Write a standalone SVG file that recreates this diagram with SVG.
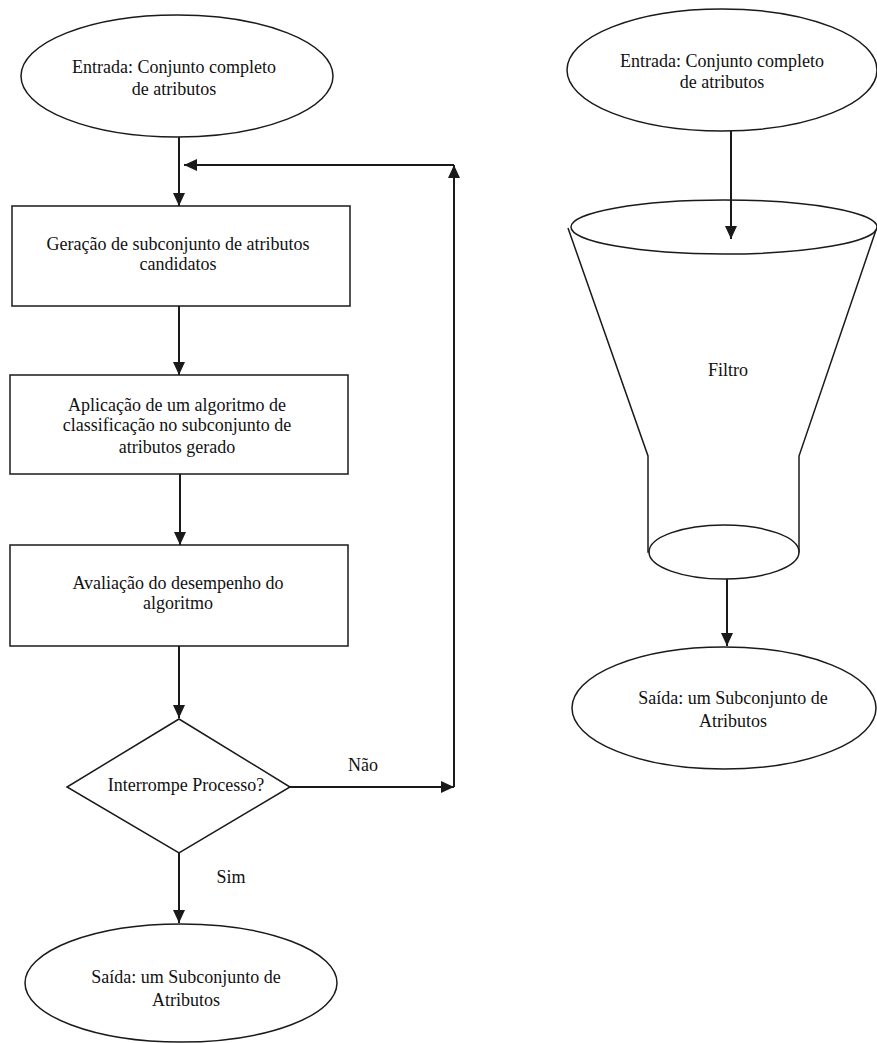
<svg xmlns="http://www.w3.org/2000/svg" width="877" height="1043" viewBox="0 0 877 1043" font-family="Liberation Serif, Times New Roman, serif" font-size="18">
<defs>
<style>
.shape{fill:#fff;stroke:#1a1a1a;stroke-width:1.5}
.line{fill:none;stroke:#1a1a1a;stroke-width:2}
.t{fill:#111;text-anchor:middle}
</style>
<marker id="ah" markerUnits="userSpaceOnUse" markerWidth="14" markerHeight="12" refX="13" refY="6" orient="auto">
<path d="M0,0 L13,6 L0,12 Z" fill="#1a1a1a"/>
</marker>
</defs>
<rect width="877" height="1043" fill="#fff"/>

<g id="entrada-left">
<ellipse class="shape" cx="177" cy="76" rx="156" ry="61"/>
<text class="t" x="174" y="73">Entrada: Conjunto completo</text>
<text class="t" x="174" y="95">de atributos</text>
</g>

<g id="geracao">
<rect class="shape" x="12" y="206" width="338" height="100"/>
<text class="t" x="178" y="250">Geração de subconjunto de atributos</text>
<text class="t" x="178" y="270">candidatos</text>
</g>

<g id="aplicacao">
<rect class="shape" x="10" y="375" width="338" height="99"/>
<text class="t" x="177" y="411">Aplicação de um algoritmo de</text>
<text class="t" x="177" y="431">classificação no subconjunto de</text>
<text class="t" x="177" y="453">atributos gerado</text>
</g>

<g id="avaliacao">
<rect class="shape" x="10" y="545" width="338" height="101"/>
<text class="t" x="178" y="589">Avaliação do desempenho do</text>
<text class="t" x="178" y="609">algoritmo</text>
</g>

<g id="decisao">
<polygon class="shape" points="179,719 290,787 179,853 67,787"/>
<text class="t" x="186" y="791">Interrompe Processo?</text>
</g>

<g id="saida-left">
<ellipse class="shape" cx="181" cy="983" rx="156" ry="59"/>
<text class="t" x="186" y="983">Saída: um Subconjunto de</text>
<text class="t" x="186" y="1006">Atributos</text>
</g>

<g id="entrada-right">
<ellipse class="shape" cx="722" cy="70" rx="155" ry="61"/>
<text class="t" x="722" y="67">Entrada: Conjunto completo</text>
<text class="t" x="722" y="88">de atributos</text>
</g>

<g id="filtro">
<path class="shape" d="M568,228 L648,456 L648,552 L799,552 L799,456 L876,230"/>
<ellipse class="shape" cx="724" cy="227" rx="153" ry="27"/>
<ellipse class="shape" cx="724" cy="552" rx="75" ry="27"/>
<text class="t" x="728" y="376">Filtro</text>
</g>

<g id="saida-right">
<ellipse class="shape" cx="724" cy="708" rx="152" ry="61"/>
<text class="t" x="733" y="704">Saída: um Subconjunto de</text>
<text class="t" x="733" y="727">Atributos</text>
</g>

<g id="connectors">
<line class="line" x1="179" y1="137" x2="179" y2="206" marker-end="url(#ah)"/>
<line class="line" x1="454" y1="165" x2="184" y2="165" marker-end="url(#ah)"/>
<line class="line" x1="454" y1="787" x2="454" y2="165" marker-end="url(#ah)"/>
<line class="line" x1="179" y1="306" x2="179" y2="375" marker-end="url(#ah)"/>
<line class="line" x1="180" y1="474" x2="180" y2="545" marker-end="url(#ah)"/>
<line class="line" x1="179" y1="646" x2="179" y2="718" marker-end="url(#ah)"/>
<line class="line" x1="290" y1="787" x2="454" y2="787" marker-end="url(#ah)"/>
<line class="line" x1="179" y1="853" x2="179" y2="923" marker-end="url(#ah)"/>
<line class="line" x1="731" y1="131" x2="731" y2="239" marker-end="url(#ah)"/>
<line class="line" x1="727" y1="579" x2="727" y2="646" marker-end="url(#ah)"/>
<text class="t" x="363" y="771">Não</text>
<text class="t" x="231" y="883">Sim</text>
</g>
</svg>
